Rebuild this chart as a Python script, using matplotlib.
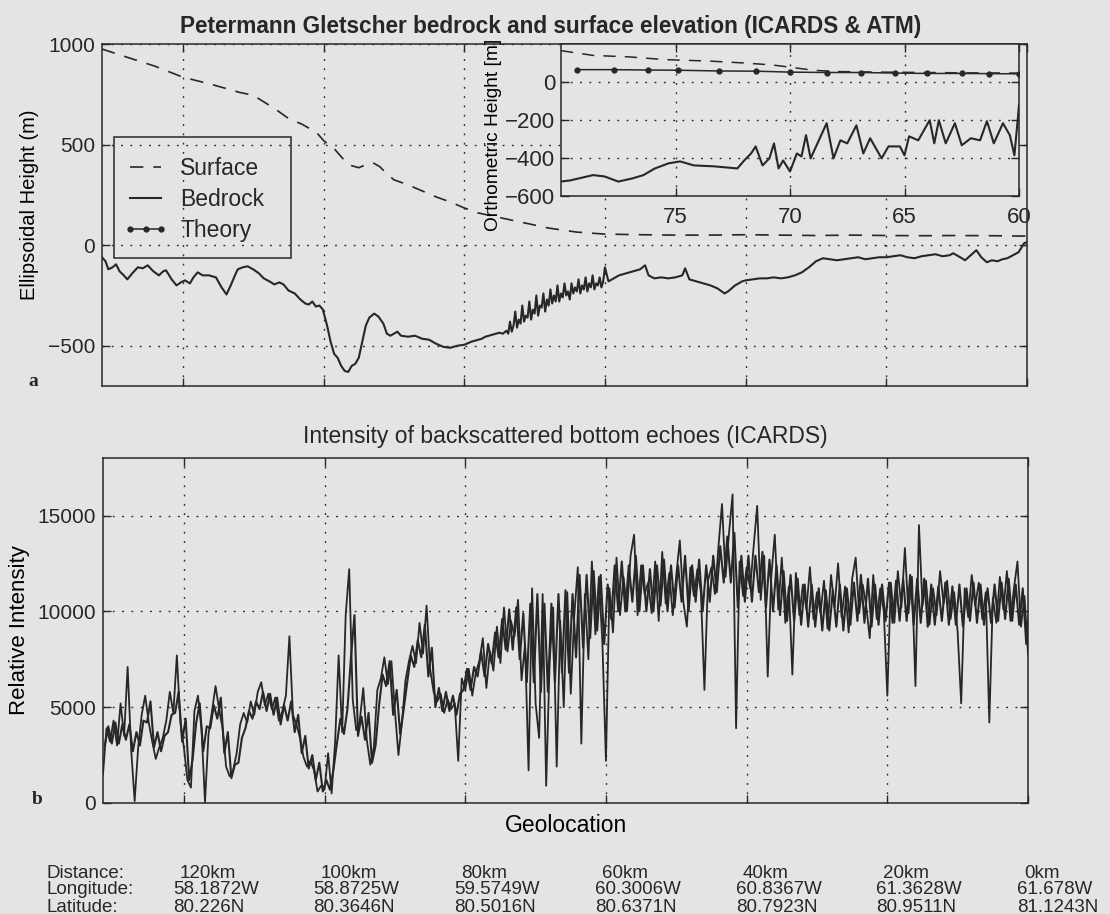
import numpy as np
import matplotlib
matplotlib.use('Agg')
import matplotlib.pyplot as plt
from matplotlib.patches import Rectangle
from matplotlib.transforms import blended_transform_factory, offset_copy

# ---- data (x = distance along profile, km) ----
surface_km = [131.5, 128, 124, 120, 116, 112, 110, 107, 105, 103, 101, 100,
              98.5, 97, 96, 95, 94, 93, 92, 91, 90, 88, 86, 84, 82, 80, 78,
              76, 74, 72, 70, 68, 66, 64, 62, 60, 55, 50, 45, 40, 35, 30, 25,
              20, 15, 10, 5, 0]
surface_m = [975, 935, 890, 835, 800, 760, 745, 680, 630, 600, 560, 520,
             480, 420, 395, 385, 400, 410, 390, 355, 325, 300, 270, 240, 215,
             185, 160, 145, 130, 115, 100, 85, 75, 65, 60, 55, 52, 50, 50, 52,
             50, 48, 50, 48, 47, 48, 47, 45]

bedrock_km = [131.5, 131.0, 130.6, 130.0, 129.5, 129.0, 128.4, 127.9, 127.2, 126.4,
              125.7, 125.0, 124.2, 123.4, 122.8, 122.4, 121.6, 120.9, 120.3, 119.7,
              119.0, 118.5, 117.9, 117.2, 116.3, 115.3, 114.5, 113.8, 113.2, 112.6,
              112.2, 111.5, 110.8, 110.0, 109.2, 108.5, 107.7, 107.0, 106.3, 105.7,
              105.0, 104.1, 103.3, 102.6, 102.1, 101.6, 101.1, 100.6, 100.1, 99.5,
              99.0, 98.5, 98.0, 97.5, 97.0, 96.5, 96.0, 95.5, 95.0, 94.5,
              94.0, 93.5, 92.8, 92.2, 91.5, 91.0, 90.5, 90.0, 89.5, 89.0,
              88.0, 87.0, 86.0, 85.0, 84.0, 83.0, 82.0, 81.0, 80.0, 79.0,
              78.0, 77.5, 77.0, 76.5, 76.0, 75.5, 75.0, 74.5, 74.0,
              73.75, 73.5, 73.25, 73.0, 72.75, 72.5, 72.25, 72.0,
              71.75, 71.5, 71.25, 71.0, 70.75, 70.5, 70.25, 70.0,
              69.75, 69.5, 69.25, 69.0, 68.75, 68.5, 68.25, 68.0,
              67.75, 67.5, 67.25, 67.0, 66.75, 66.5, 66.25, 66.0,
              65.75, 65.5, 65.25, 65.0, 64.75, 64.5, 64.25, 64.0,
              63.75, 63.5, 63.25, 63.0, 62.75, 62.5, 62.25, 62.0,
              61.75, 61.5, 61.25, 61.0, 60.75, 60.5, 60.25, 60.0,
              59.5, 59.0, 58.5, 58.0, 57.0, 56.0, 55.0,
              54.3, 53.8, 53.0, 52.0, 51.0, 50.0, 49.0, 48.6, 48.0, 47.0,
              46.0, 45.0, 44.0, 43.0, 42.5, 41.5, 40.5, 40.0, 39.0, 38.0,
              37.0, 36.0, 35.0, 34.0, 33.0, 32.0, 31.0, 30.0, 29.0, 28.0,
              27.0, 26.0, 25.0, 24.0, 23.0, 22.0, 21.0, 20.0, 19.0, 18.0,
              17.0, 16.0, 15.0, 14.0, 13.0, 12.0, 11.0, 10.5, 9.5, 8.8,
              8.0, 7.2, 6.5, 5.7, 5.0, 4.2, 3.5, 2.8, 2.0, 1.2,
              0.4, 0.0]
bedrock_m = [-60, -80, -120, -110, -95, -130, -150, -170, -140, -110,
             -115, -100, -130, -150, -130, -125, -170, -200, -185, -175,
             -190, -160, -135, -150, -150, -160, -210, -245, -200, -150,
             -120, -110, -105, -120, -140, -165, -180, -195, -185, -195,
             -225, -240, -270, -290, -295, -280, -305, -300, -320, -400,
             -480, -540, -560, -600, -625, -630, -600, -590, -560, -480,
             -400, -360, -340, -355, -390, -440, -450, -440, -430, -450,
             -455, -450, -465, -470, -490, -505, -510, -500, -495, -480,
             -470, -465, -455, -450, -445, -440, -435, -440, -425,
             -440, -380, -430, -400, -330, -410, -370, -390,
             -300, -380, -350, -360, -280, -370, -320, -340,
             -250, -350, -300, -310, -240, -330, -270, -300,
             -220, -290, -250, -280, -200, -280, -240, -260,
             -190, -250, -230, -270, -190, -240, -210, -230,
             -170, -240, -200, -220, -160, -230, -190, -210,
             -150, -220, -190, -200, -160, -210, -180, -110,
             -180, -170, -160, -150, -140, -130, -120,
             -100, -150, -165, -160, -165, -160, -150, -115, -170, -180,
             -190, -200, -215, -240, -230, -200, -180, -175, -170, -165,
             -165, -160, -165, -160, -150, -135, -110, -80, -65, -70,
             -75, -70, -65, -60, -70, -65, -60, -60, -55, -50,
             -60, -65, -55, -50, -45, -55, -50, -40, -60, -75,
             -50, -25, -60, -85, -75, -80, -70, -65, -50, -35,
             10, 15]

# inset (orthometric heights)
inset_bed_x = [80.0, 79.6, 78.6, 78.1, 77.5, 76.9, 76.4, 75.9, 75.3, 74.8,
               74.2, 73.3, 72.3, 72.0, 71.7, 71.5, 71.2, 70.9, 70.7, 70.5,
               70.3, 70.0, 69.7, 69.5, 69.3, 69.1, 68.8, 68.4, 68.1, 67.8,
               67.5, 67.1, 66.8, 66.5, 66.0, 65.7, 65.2, 65.0, 64.8, 64.4,
               63.9, 63.7, 63.5, 63.2, 62.8, 62.5, 62.1, 61.7, 61.4, 61.1,
               60.7, 60.4, 60.2, 60.05, 60.0]
inset_bed_m = [-524, -518, -490, -497, -524, -508, -490, -455, -428, -418,
               -439, -444, -455, -413, -376, -339, -439, -402, -323, -455,
               -413, -471, -376, -392, -280, -402, -323, -217, -402, -307,
               -323, -228, -376, -296, -402, -339, -339, -386, -286, -307,
               -201, -323, -201, -323, -217, -333, -296, -307, -206, -323,
               -217, -280, -386, -190, -120]
inset_surf_x = [80, 78.6, 77, 75.5, 73.5, 72, 70.8, 70, 69, 68, 66, 64, 62, 60]
inset_surf_m = [165, 140, 132, 118, 110, 100, 90, 78, 62, 55, 52, 50, 48, 47]
theory_x = [79.3, 77.7, 76.2, 74.9, 73.1, 71.5, 70.0, 68.4, 66.9, 65.4, 64.0,
            62.5, 61.3, 60.0]
theory_m = [65, 65, 63, 62, 58, 57, 52, 50, 50, 47, 45, 45, 44, 43]

# relative intensity trace, one reading every 0.5 km from 131.5 km to 0 km
intensity = [
    1500, 3900, 3200, 4300, 3000, 5200, 3500, 7100, 2800, 100,
    2900, 4600, 5600, 4200, 3200, 2300, 2900, 3400, 4300, 5800,
    4700, 7700, 4200, 2900, 1200, 800, 4800, 5600, 3900, 50,
    3600, 4800, 6100, 4900, 3900, 1900, 1400, 1700, 2600, 4100,
    4700, 4200, 5300, 4600, 5800, 6300, 5100, 5700, 4900, 5500,
    4300, 4800, 5600, 8700, 4600, 4100, 3400, 2400, 1900, 2200,
    1700, 600, 900, 700, 2600, 500, 3200, 7700, 3700, 9800,
    12200, 5400, 3800, 4300, 6000, 3300, 2000, 2900, 5900, 6500,
    7600, 6200, 7400, 4800, 2500, 4200, 6400, 7400, 8200, 7300,
    9400, 7800, 10300, 7000, 5800, 5300, 5700, 4700, 5400, 4900,
    5200, 2200, 6500, 5900, 7000, 5600, 6800, 7400, 8600, 6000,
    7900, 6900, 9200, 7300, 10200, 7900, 9500, 8700, 10600, 6400,
    8300, 1700, 11200, 5200, 3400, 10900, 900, 7400, 10200, 1900,
    9500, 5000, 11000, 5700, 9800, 12300, 3100, 10900, 7500, 12600,
    8800, 11800, 8300, 2200, 11200, 8900, 12800, 9800, 11800, 10000,
    12900, 14000, 9800, 12400, 10900, 11500, 9900, 12600, 9500, 13100,
    10400, 12000, 9800, 11900, 13700, 10500, 9200, 12300, 10800, 12200,
    11000, 5900, 11600, 12300, 10900, 13400, 15600, 11800, 14100, 16100,
    3900, 12600, 10800, 12300, 11200, 13400, 15500, 10600, 12900, 6600,
    11800, 14000, 10100, 12800, 9400, 11300, 6700, 12000, 9800, 11400,
    10100, 12300, 9600, 11000, 9900, 11600, 9100, 11900, 10200, 12500,
    9700, 11300, 8900, 11700, 12800, 9900, 11400, 10300, 8600, 11900,
    9600, 11200, 10000, 5600, 11500, 9400, 12100, 10200, 13300, 9900,
    11800, 6100, 14500, 10300, 11600, 9300, 11200, 9800, 12100, 10400,
    11600, 9600, 11000, 8900, 5200, 11200, 9700, 11900, 10300, 11500,
    9600, 11000, 4200, 10700, 9400, 11800, 10100, 12100, 9500, 11200,
    12600, 9200, 10800, 7800]
intensity_km = np.linspace(131.5, 0, len(intensity))

# dense core of the intensity record: low / high edge, every 1 km (131 .. 0 km)
band_lo = [
    3000, 3100, 3100, 3300, 2700, 3000, 4200, 2900, 2700, 3700,
    4700, 3200, 1200, 4200, 2700, 3900, 4400, 2600, 1300, 2100,
    3900, 4400, 4900, 4800, 4600, 4100, 4300, 3700, 2600, 1800,
    1200, 600, 700, 3100, 3600, 7600, 3500, 3300, 2100, 5100,
    6100, 4600, 3600, 6300, 7100, 7600, 6600, 5000, 4800, 4800,
    4600, 5900, 5900, 6600, 6600, 7300, 7600, 8000, 8000, 7500,
    6300, 6300, 5800, 5800, 6300, 6800, 6800, 7600, 8100, 8600,
    9000, 8300, 9600, 10000, 10000, 10500, 10000, 10000, 10000, 10300,
    10000, 10200, 10500, 10000, 10500, 10000, 10500, 11000, 11500, 11500,
    10200, 10500, 10500, 11000, 10200, 10000, 9800, 9500, 9500, 9300,
    9200, 9200, 9000, 9000, 9200, 9000, 9300, 9500, 9400, 9200,
    9300, 9500, 9400, 9500, 9500, 9300, 9400, 9200, 9300, 9500,
    9300, 9300, 9200, 9500, 9400, 9300, 9400, 9500, 9600, 9500,
    9300, 8300]
band_hi = [
    4000, 4200, 4100, 4100, 3700, 4300, 5300, 3700, 3500, 4600,
    5800, 4400, 2300, 5200, 4000, 5100, 5500, 3700, 2000, 3400,
    4800, 5300, 5800, 5700, 5500, 5100, 5300, 4600, 3500, 2500,
    2100, 1200, 1700, 4400, 4900, 9800, 4500, 4700, 3000, 6700,
    7400, 5900, 4900, 7700, 8500, 9300, 8100, 6000, 5800, 5600,
    5700, 7000, 7100, 7900, 8300, 8900, 9600, 10100, 10200, 9900,
    10400, 10900, 10400, 10400, 10900, 11100, 10900, 11900, 11900, 12100,
    11900, 11400, 12400, 12600, 12400, 12900, 12400, 12200, 12400, 12700,
    12400, 12400, 12900, 12400, 12700, 12400, 12900, 13400, 13900, 14100,
    12900, 12900, 12900, 13100, 12700, 12400, 12100, 11900, 11700, 11400,
    11400, 11200, 11100, 11100, 11400, 11200, 11500, 11900, 11700, 11400,
    11400, 11500, 11600, 11700, 11900, 11700, 11700, 11400, 11300, 11500,
    11300, 11400, 11200, 11500, 11400, 11200, 11400, 11500, 11700, 11400,
    11200, 10400]
# the core is drawn as a fine zig-zag: low edge, high edge, low edge, ...
band_x = np.linspace(131.25, -0.25, 2 * len(band_lo))
band_y = np.column_stack([band_lo, band_hi]).ravel()

tick_km = [120, 100, 80, 60, 40, 20, 0]
dist_labels = ['120km', '100km', '80km', '60km', '40km', '20km', '0km']
lon_labels = ['58.1872W', '58.8725W', '59.5749W', '60.3006W', '60.8367W',
              '61.3628W', '61.678W']
lat_labels = ['80.226N', '80.3646N', '80.5016N', '80.6371N', '80.7923N',
              '80.9511N', '81.1243N']

BG = '#e4e4e4'
INK = '#272727'
GRID = dict(linestyle=(0, (1.3, 5.4)), color=INK, linewidth=1.0)

plt.rcParams['font.family'] = ['Liberation Sans', 'DejaVu Sans']
plt.rcParams['text.color'] = INK
plt.rcParams['axes.edgecolor'] = INK
plt.rcParams['axes.linewidth'] = 1.1

fig = plt.figure(figsize=(11.1, 9.14), dpi=100, facecolor=BG)
W, H = 1110, 914


def px_axes(left, top, right, bottom):
    return [left / W, 1 - bottom / H, (right - left) / W, (bottom - top) / H]


def style(ax, labelsize=15):
    ax.set_facecolor(BG)
    ax.tick_params(direction='in', length=6, width=1, top=True, right=True,
                   labelsize=labelsize, colors=INK, pad=5)
    ax.grid(True, **GRID)


# ---- panel a ----
ax1 = fig.add_axes(px_axes(102, 44, 1027, 386))
style(ax1)
surf_line, = ax1.plot(surface_km, surface_m, color=INK, lw=1.2,
                      linestyle=(0, (8, 6)), label='Surface')
bed_line, = ax1.plot(bedrock_km, bedrock_m, color=INK, lw=1.5, label='Bedrock')
ax1.set_xlim(131.5, 0)
ax1.set_ylim(-700, 1000)
ax1.set_xticks(tick_km)
ax1.set_xticklabels([])
ax1.set_yticks([-500, 0, 500, 1000])
ax1.set_ylabel('Ellipsoidal Height (m)', fontsize=14.5)
ax1.yaxis.set_label_coords(-0.068, 0.53)
ax1.set_title('Petermann Gletscher bedrock and surface elevation (ICARDS & ATM)',
              fontsize=16.3, fontweight='bold', pad=8, x=0.485)

# inset
axi = fig.add_axes(px_axes(561, 44, 1019, 196))
style(axi, labelsize=16)
axi.plot(inset_surf_x, inset_surf_m, color=INK, lw=1.1, linestyle=(0, (8, 6)))
axi.plot(inset_bed_x, inset_bed_m, color=INK, lw=1.5)
theory_line, = axi.plot(theory_x, theory_m, color=INK, lw=1.1, marker='.',
                        markersize=7, label='Theory')
axi.set_xlim(80, 60)
axi.set_ylim(-600, 200)
axi.set_xticks([75, 70, 65, 60])
axi.set_yticks([-600, -400, -200, 0])
axi.tick_params(axis='x', pad=8)
axi.tick_params(axis='y', pad=4)
axi.set_ylabel('Orthometric Height [m]', fontsize=13.8)
axi.yaxis.set_label_coords(-0.129, 0.4)

# legend with a plain box around it
ax1.add_patch(Rectangle((0.013, 0.374), 0.191, 0.354, transform=ax1.transAxes,
                        fill=False, edgecolor=INK, lw=1.1, zorder=5))
ax1.legend(handles=[surf_line, bed_line, theory_line], loc='upper left',
           bbox_to_anchor=(0.013, 0.697), frameon=False, fontsize=16.5,
           handlelength=1.97, handletextpad=0.52, labelspacing=0.35,
           borderpad=0.4, borderaxespad=0, numpoints=3)

# ---- panel b ----
ax2 = fig.add_axes(px_axes(103, 458, 1028, 803))
style(ax2)
ax2.plot(band_x, band_y, color=INK, lw=1.5)
ax2.plot(intensity_km, intensity, color=INK, lw=1.3)
ax2.set_xlim(131.5, 0)
ax2.set_ylim(0, 18000)
ax2.set_xticks(tick_km)
ax2.set_xticklabels([])
ax2.set_yticks([0, 5000, 10000, 15000])
ax2.set_ylabel('Relative Intensity', fontsize=16)
ax2.yaxis.set_label_coords(-0.079, 0.5)
ax2.set_title('Intensity of backscattered bottom echoes (ICARDS)',
              fontsize=16.5, pad=11)
ax2.set_xlabel('Geolocation', fontsize=16.5, labelpad=3)

# panel letters
fig.text(33 / W, 1 - 382 / H, 'a', family='Liberation Serif',
         fontweight='bold', fontsize=14, ha='center', va='center')
fig.text(37 / W, 1 - 800 / H, 'b', family='Liberation Serif',
         fontweight='bold', fontsize=14, ha='center', va='center')

# geolocation table under the lower panel
rows_y = [1 - 873 / H, 1 - 890 / H, 1 - 907 / H]
for txt, y in zip(['Distance:', 'Longitude:', 'Latitude:'], rows_y):
    fig.text(46 / W, y, txt, fontsize=13.5, ha='left', va='center')
base = blended_transform_factory(ax2.transData, fig.transFigure)
t_dist = offset_copy(base, fig=fig, x=-4, units='dots')
t_coord = offset_copy(base, fig=fig, x=-11, units='dots')
for km, d, lon, lat in zip(tick_km, dist_labels, lon_labels, lat_labels):
    fig.text(km, rows_y[0], d, transform=t_dist, fontsize=13.5,
             ha='left', va='center')
    fig.text(km, rows_y[1], lon, transform=t_coord, fontsize=13.5,
             ha='left', va='center')
    fig.text(km, rows_y[2], lat, transform=t_coord, fontsize=13.5,
             ha='left', va='center')

fig.savefig('out.png', dpi=100, facecolor=BG)
